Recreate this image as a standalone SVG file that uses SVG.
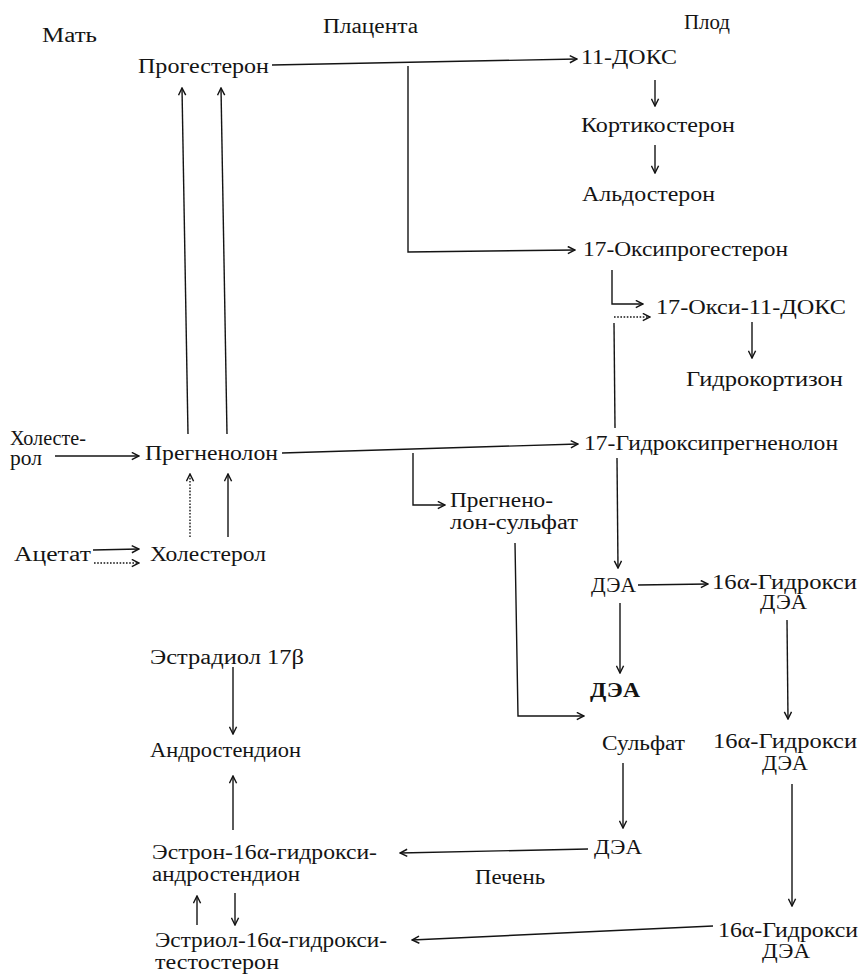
<svg xmlns="http://www.w3.org/2000/svg" width="866" height="976" viewBox="0 0 866 976">
<style>
text{font-family:"Liberation Serif","DejaVu Serif",serif;font-size:20.5px;fill:#141414}
.c line,.c path{stroke:#141414;stroke-width:1.4;fill:none}
.c .dot{stroke-dasharray:1.6 1.6}
.b{font-weight:bold;font-size:22px}
</style>
<defs>
<marker id="ah" viewBox="0 0 10 10" refX="9" refY="5" markerWidth="9" markerHeight="9" orient="auto" markerUnits="userSpaceOnUse">
<path d="M1,1 L9,5 L1,9" fill="none" stroke="#141414" stroke-width="1.6"/>
</marker>
</defs>
<rect width="866" height="976" fill="#fff"/>
<g id="headers">
<text x="42" y="42" textLength="55" lengthAdjust="spacingAndGlyphs">Мать</text>
<text x="323" y="33" textLength="95" lengthAdjust="spacingAndGlyphs">Плацента</text>
<text x="684" y="29" textLength="46" lengthAdjust="spacingAndGlyphs">Плод</text>
</g>
<g id="progesteron"><text x="138" y="73" textLength="131" lengthAdjust="spacingAndGlyphs">Прогестерон</text></g>
<g id="doks11"><text x="581" y="64" textLength="96" lengthAdjust="spacingAndGlyphs">11-ДОКС</text></g>
<g id="kortikosteron"><text x="581" y="132" textLength="154" lengthAdjust="spacingAndGlyphs">Кортикостерон</text></g>
<g id="aldosteron"><text x="582" y="201" textLength="133" lengthAdjust="spacingAndGlyphs">Альдостерон</text></g>
<g id="oksiprogesteron"><text x="583" y="256" textLength="205" lengthAdjust="spacingAndGlyphs">17-Оксипрогестерон</text></g>
<g id="oksidoks"><text x="656" y="314" textLength="190" lengthAdjust="spacingAndGlyphs">17-Окси-11-ДОКС</text></g>
<g id="gidrokortizon"><text x="686" y="386" textLength="157" lengthAdjust="spacingAndGlyphs">Гидрокортизон</text></g>
<g id="cholesterol-m">
<text x="10" y="445" textLength="76" lengthAdjust="spacingAndGlyphs">Холесте-</text>
<text x="10" y="465" textLength="32" lengthAdjust="spacingAndGlyphs">рол</text>
</g>
<g id="pregnenolon"><text x="145" y="460" textLength="133" lengthAdjust="spacingAndGlyphs">Прегненолон</text></g>
<g id="gidroksipregnenolon"><text x="584" y="450" textLength="254" lengthAdjust="spacingAndGlyphs">17-Гидроксипрегненолон</text></g>
<g id="pregnenolon-sulfat">
<text x="450" y="507" textLength="103" lengthAdjust="spacingAndGlyphs">Прегнено-</text>
<text x="450" y="529" textLength="128" lengthAdjust="spacingAndGlyphs">лон-сульфат</text>
</g>
<g id="acetat"><text x="14" y="561" textLength="77" lengthAdjust="spacingAndGlyphs">Ацетат</text></g>
<g id="cholesterol"><text x="150" y="561" textLength="116" lengthAdjust="spacingAndGlyphs">Холестерол</text></g>
<g id="dea1"><text x="591" y="592" textLength="45" lengthAdjust="spacingAndGlyphs">ДЭА</text></g>
<g id="hdea1">
<text x="712" y="589" textLength="145" lengthAdjust="spacingAndGlyphs">16α-Гидрокси</text>
<text x="760" y="609" textLength="47" lengthAdjust="spacingAndGlyphs">ДЭА</text>
</g>
<g id="estradiol"><text x="150" y="664" textLength="154" lengthAdjust="spacingAndGlyphs">Эстрадиол 17β</text></g>
<g id="dea-sulfat">
<text class="b" x="590" y="697" textLength="50" lengthAdjust="spacingAndGlyphs">ДЭА</text>
<text x="602" y="750" textLength="83" lengthAdjust="spacingAndGlyphs">Сульфат</text>
</g>
<g id="androstendion"><text x="150" y="757" textLength="151" lengthAdjust="spacingAndGlyphs">Андростендион</text></g>
<g id="hdea2">
<text x="713" y="748" textLength="144" lengthAdjust="spacingAndGlyphs">16α-Гидрокси</text>
<text x="762" y="770" textLength="46" lengthAdjust="spacingAndGlyphs">ДЭА</text>
</g>
<g id="dea3"><text x="594" y="854" textLength="48" lengthAdjust="spacingAndGlyphs">ДЭА</text></g>
<g id="estron">
<text x="152" y="859" textLength="225" lengthAdjust="spacingAndGlyphs">Эстрон-16α-гидрокси-</text>
<text x="152" y="881" textLength="148" lengthAdjust="spacingAndGlyphs">андростендион</text>
</g>
<g id="pechen"><text x="475" y="884" textLength="70" lengthAdjust="spacingAndGlyphs">Печень</text></g>
<g id="estriol">
<text x="155" y="947" textLength="232" lengthAdjust="spacingAndGlyphs">Эстриол-16α-гидрокси-</text>
<text x="155" y="969" textLength="124" lengthAdjust="spacingAndGlyphs">тестостерон</text>
</g>
<g id="hdea3">
<text x="718" y="937" textLength="140" lengthAdjust="spacingAndGlyphs">16α-Гидрокси</text>
<text x="762" y="958" textLength="48" lengthAdjust="spacingAndGlyphs">ДЭА</text>
</g>
<g id="connectors" class="c">
<line x1="272" y1="65" x2="577" y2="59" marker-end="url(#ah)"/>
<path d="M408,66 V252 L575,250" marker-end="url(#ah)"/>
<line x1="655" y1="80" x2="655" y2="106" marker-end="url(#ah)"/>
<line x1="655" y1="145" x2="655" y2="173" marker-end="url(#ah)"/>
<path d="M612,270 V304 H643" marker-end="url(#ah)"/>
<line class="dot" x1="614" y1="317" x2="650" y2="317" marker-end="url(#ah)"/>
<line x1="614" y1="323" x2="615" y2="428"/>
<line x1="752" y1="322" x2="752" y2="358" marker-end="url(#ah)"/>
<line x1="55" y1="456" x2="139" y2="456" marker-end="url(#ah)"/>
<line x1="188" y1="434" x2="182" y2="88" marker-end="url(#ah)"/>
<line x1="227" y1="434" x2="221" y2="88" marker-end="url(#ah)"/>
<line class="dot" x1="190" y1="537" x2="190" y2="474" marker-end="url(#ah)"/>
<line x1="228" y1="537" x2="228" y2="474" marker-end="url(#ah)"/>
<line x1="93" y1="550" x2="139" y2="549" marker-end="url(#ah)"/>
<line class="dot" x1="94" y1="563" x2="139" y2="563" marker-end="url(#ah)"/>
<line x1="282" y1="453" x2="578" y2="444" marker-end="url(#ah)"/>
<path d="M413,453 V505 H445" marker-end="url(#ah)"/>
<path d="M515,543 L518,716 H584" marker-end="url(#ah)"/>
<line x1="617" y1="458" x2="618" y2="568" marker-end="url(#ah)"/>
<line x1="638" y1="585" x2="708" y2="584" marker-end="url(#ah)"/>
<line x1="620" y1="603" x2="620" y2="673" marker-end="url(#ah)"/>
<line x1="787" y1="620" x2="788" y2="719" marker-end="url(#ah)"/>
<line x1="623" y1="763" x2="623" y2="828" marker-end="url(#ah)"/>
<line x1="588" y1="849" x2="400" y2="853" marker-end="url(#ah)"/>
<line x1="792" y1="784" x2="792" y2="906" marker-end="url(#ah)"/>
<line x1="713" y1="926" x2="412" y2="940" marker-end="url(#ah)"/>
<line x1="233" y1="667" x2="233" y2="734" marker-end="url(#ah)"/>
<line x1="233" y1="830" x2="233" y2="776" marker-end="url(#ah)"/>
<line x1="197" y1="925" x2="197" y2="896" marker-end="url(#ah)"/>
<line x1="235" y1="893" x2="235" y2="925" marker-end="url(#ah)"/>
</g>
</svg>
